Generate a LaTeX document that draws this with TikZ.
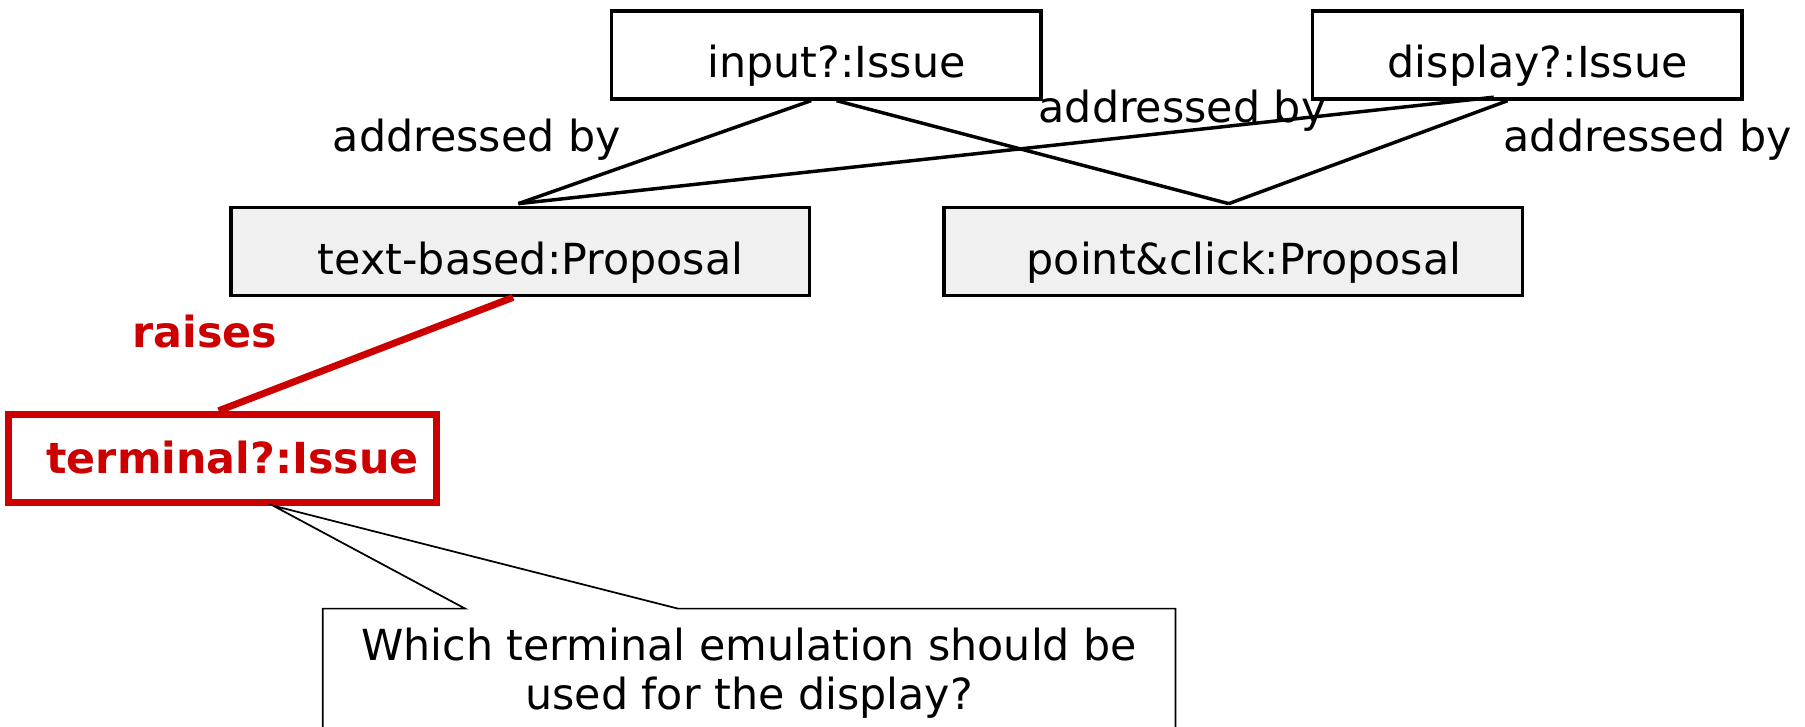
\documentclass[tikz,border=0pt]{standalone}
\usepackage{fontspec}
\setmainfont{DejaVu Sans}
\usetikzlibrary{calc}
\definecolor{myred}{HTML}{CC0000}
\definecolor{propfill}{HTML}{F0F0F0}
\begin{document}
\begin{tikzpicture}[x=1pt,y=-1pt,
  every node/.style={font=\fontsize{37pt}{42pt}\selectfont},
  issuebox/.style={draw, line width=3pt, minimum width=371pt, minimum height=76pt,
    text height=39pt, text depth=0pt, inner sep=0pt, fill=white},
  propbox/.style={issuebox, fill=propfill, minimum width=500pt},
  redbox/.style={issuebox, draw=myred, line width=6pt, text=myred, text height=27pt,
    font=\fontsize{37pt}{42pt}\selectfont\bfseries, minimum width=370pt},
  conn/.style={line width=3pt},
  raiseline/.style={line width=6pt, draw=myred},
  calloutline/.style={line width=1.5pt, fill=white},
  lbl/.style={anchor=base, inner sep=0pt}
]
\useasboundingbox (4,0) rectangle (1564,627.5);

\node[issuebox] (input) at (718,47.5) {\hspace*{18pt}input?:Issue};
\node[issuebox] (display) at (1324,47.5) {\hspace*{18pt}display?:Issue};
\node[propbox] (tb) at (453.5,217.5) {\hspace*{18pt}text-based:Proposal};
\node[propbox] (pc) at (1070,217.5) {\hspace*{18pt}point\&click:Proposal};
\node[redbox] (term) at (196,396) {\hspace*{18pt}terminal?:Issue};

\draw[conn] ([xshift=-13pt]input.south) -- ([xshift=-1.5pt,yshift=2pt]tb.north);
\draw[conn] ([xshift=9pt]input.south) -- ([xshift=-4pt,yshift=2pt]pc.north);
\draw[conn] ([xshift=-29pt,yshift=3pt]display.south) -- ([xshift=-1.5pt,yshift=2pt]tb.north);
\draw[conn] ([xshift=-17pt]display.south) -- ([xshift=-4pt,yshift=2pt]pc.north);
\draw[raiseline] ([xshift=-6pt]tb.south) -- ([xshift=-3pt]term.north);

\coordinate (tip) at ([xshift=44pt]term.south);
\draw[calloutline] (283,660) -- (283,526) -- (406,526) -- (tip) -- (590,526) -- (1020,526) -- (1020,660);
\node[inner sep=0pt, align=center] (q) at (651.5,582) {Which terminal emulation should be\\used for the display?};

\node[lbl] (l1) at (416,131) {addressed by};
\node[lbl] (l2) at (1026,106) {addressed by};
\node[lbl] (l3) at (1428,131) {addressed by};
\node[lbl, text=myred, font=\fontsize{37pt}{42pt}\selectfont\bfseries] (l4) at (181,300) {raises};
\end{tikzpicture}
\end{document}
